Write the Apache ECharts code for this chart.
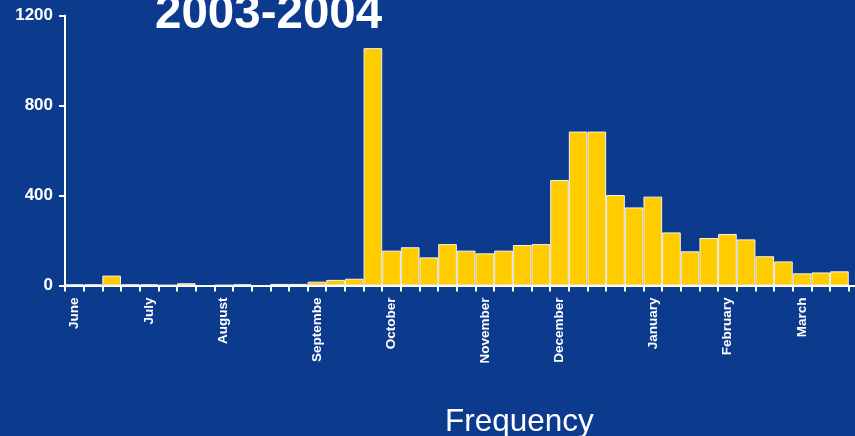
<!DOCTYPE html>
<html>
<head>
<meta charset="utf-8">
<script src="https://cdn.jsdelivr.net/npm/echarts@6/dist/echarts.min.js"></script>
<style>
  html, body { margin: 0; padding: 0; background: #0c3b8e; }
  #chart { width: 855px; height: 436px; }
</style>
</head>
<body>
<div id="chart"></div>
<script>
// Weekly bins from June 2003 to March 2004; a month name marks the first week of each month.
const weekLabels = [
  'June', '', '', '', 'July', '', '', '', 'August', '', '', '', '', 'Septembe',
  '', '', '', 'October', '', '', '', '', 'November', '', '', '', 'December',
  '', '', '', '', 'January', '', '', '', 'February', '', '', '', 'March', '', '', ''
];

// Number of reports per week
const weeklyCounts = [
  5, 5, 44, 5, 5, 2, 10, 0, 2, 5, 0, 7, 7, 17, 25, 30, 1055,
  155, 170, 125, 184, 155, 143, 155, 180, 184, 469, 684, 684,
  402, 347, 395, 236, 152, 211, 229, 205, 130, 107, 54, 58, 63, null
];

const yTicks = { min: 0, max: 1200, interval: 400 };

const FONT = "'Liberation Sans', Arial, sans-serif";
const WHITE = '#ffffff';

const chart = echarts.init(document.getElementById('chart'), null, { renderer: 'canvas' });

chart.setOption({
  backgroundColor: '#0c3b8e',
  animation: false,
  title: [
    {
      text: '2003-2004',
      left: 150,
      top: -14,
      textStyle: { color: WHITE, fontFamily: FONT, fontWeight: 'bold', fontSize: 47.5 }
    },
    {
      text: 'Frequency',
      left: 440,
      top: 401,
      textStyle: { color: WHITE, fontFamily: FONT, fontWeight: 'normal', fontSize: 31.5 }
    }
  ],
  grid: {
    left: 65,
    top: 15.5,
    right: -12.4,
    bottom: 150.5,
    containLabel: false,
    outerBoundsMode: 'none'
  },
  xAxis: {
    type: 'category',
    data: weekLabels,
    boundaryGap: true,
    axisLine: { lineStyle: { color: WHITE, width: 2 } },
    axisTick: { show: true, alignWithLabel: false, interval: 0, length: 6, lineStyle: { color: WHITE, width: 2 } },
    axisLabel: {
      interval: 0,
      rotate: 90,
      margin: 12,
      color: WHITE,
      fontFamily: FONT,
      fontWeight: 'bold',
      fontSize: 13.5
    },
    splitLine: { show: false }
  },
  yAxis: {
    type: 'value',
    min: yTicks.min,
    max: yTicks.max,
    interval: yTicks.interval,
    axisLine: { show: true, lineStyle: { color: WHITE, width: 2 } },
    axisTick: { show: true, length: 6, lineStyle: { color: WHITE, width: 2 } },
    axisLabel: {
      margin: 12,
      color: WHITE,
      fontFamily: FONT,
      fontWeight: 'bold',
      fontSize: 17,
      formatter: (v) => String(v)
    },
    splitLine: { show: false }
  },
  series: [
    {
      type: 'bar',
      data: weeklyCounts,
      barCategoryGap: '0%',
      itemStyle: { color: '#ffcc00', borderColor: '#f4f4f4', borderWidth: 1 }
    }
  ]
});
</script>
</body>
</html>
